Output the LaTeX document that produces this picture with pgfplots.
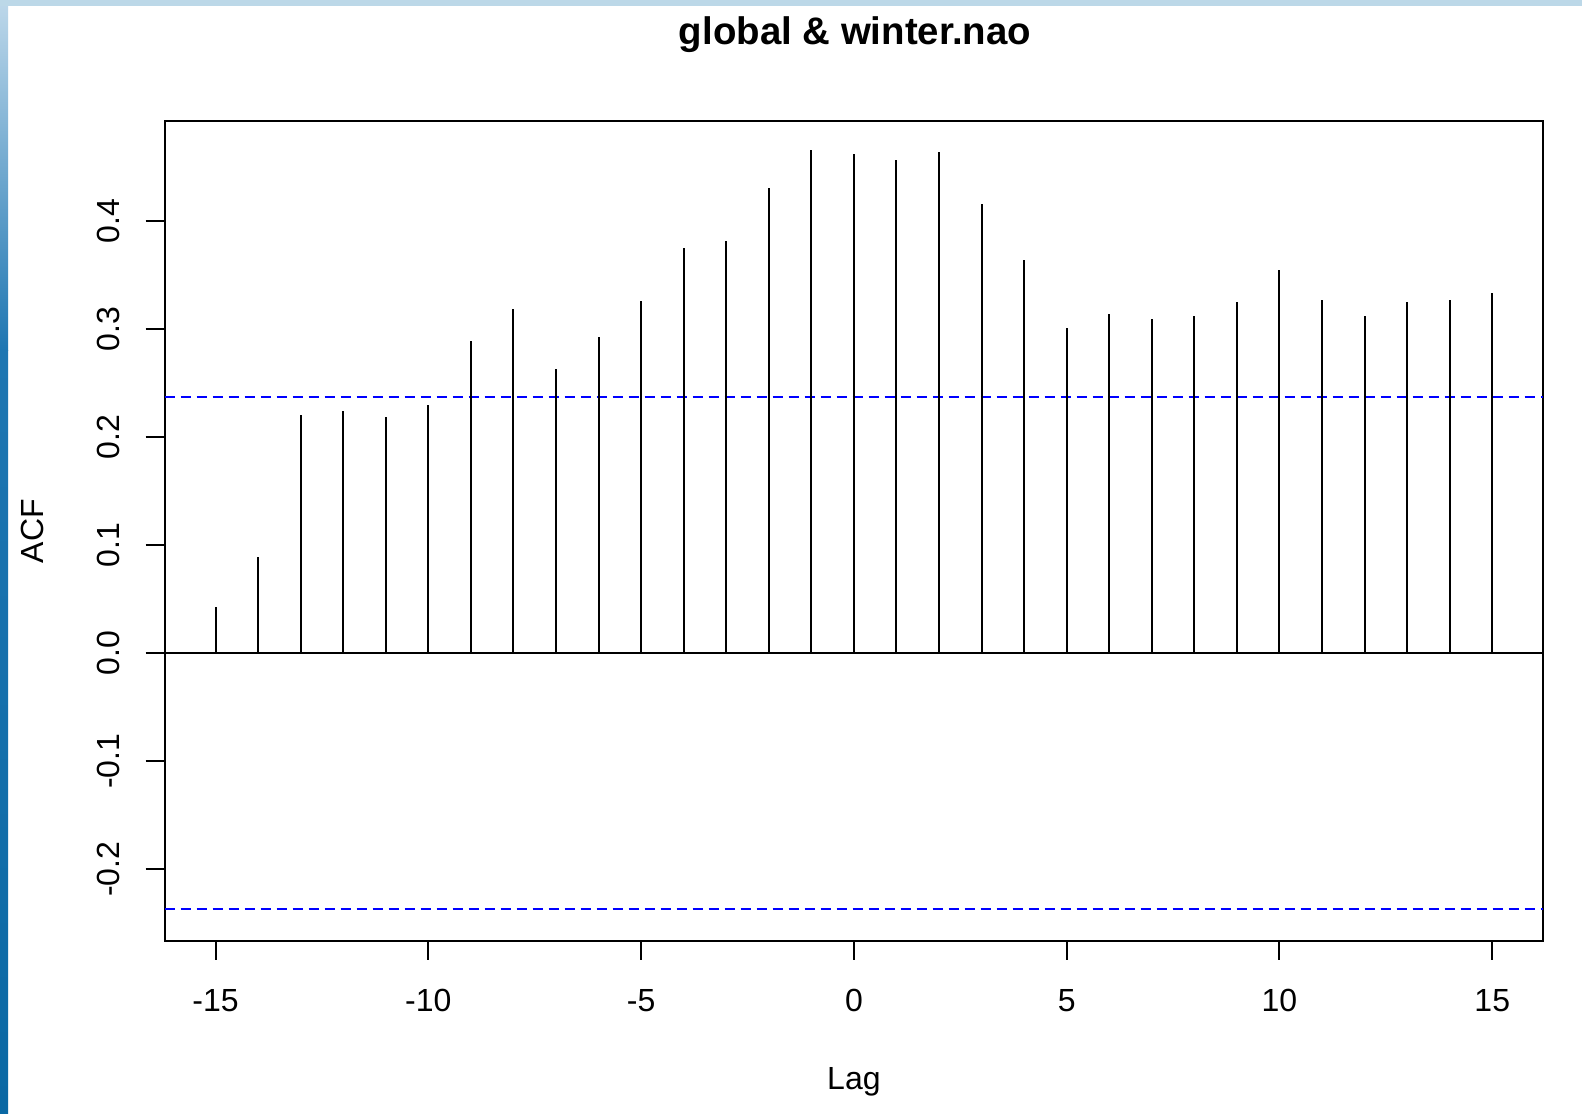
\documentclass[border=0pt]{standalone}
\usepackage{pgfplots}
\pgfplotsset{compat=1.18}
\usepackage{fontspec}
\setmainfont{Liberation Sans}
\definecolor{stripTop}{RGB}{188,216,232}
\definecolor{sA}{RGB}{190,216,234}
\definecolor{sB}{RGB}{30,118,178}
\definecolor{sC}{RGB}{10,104,164}
\definecolor{rblue}{RGB}{0,0,255}
\begin{document}
\begin{tikzpicture}
\path[use as bounding box] (0,0) rectangle (791pt,-556.5pt);
\fill[white] (0,0) rectangle (791pt,-556.5pt);
\shade[top color=sA, bottom color=sB] (0,0) rectangle (4pt,-175pt);
\shade[top color=sB, bottom color=sC] (0,-175pt) rectangle (4pt,-556.5pt);
\fill[stripTop] (0,0) rectangle (791pt,-3pt);
\begin{axis}[
  at={(82.25pt,-470.35pt)}, anchor=south west,
  scale only axis, width=689.4pt, height=409.85pt,
  xmin=-16.2, xmax=16.2, ymin=-0.2661, ymax=0.4929,
  axis line style={line width=1pt, black},
  xtick={-15,-10,-5,0,5,10,15},
  ytick={-0.2,-0.1,0,0.1,0.2,0.3,0.4},
  xtick pos=bottom, ytick pos=left,
  tick align=outside, major tick length=9.5pt,
  every tick/.style={black, line width=1pt},
  /pgf/number format/assume math mode=true,
  tick label style={font=\fontsize{16}{19}\selectfont, inner sep=0pt},
  yticklabel={\pgfmathprintnumber[fixed,fixed zerofill,precision=1]{\tick}},
  xticklabel style={anchor=base, yshift=-25.65pt},
  yticklabel style={rotate=90, anchor=base, yshift=13.1pt},
  clip=true,
]
\addplot[black, line width=1pt] coordinates {(-16.2,0) (16.2,0)};
\addplot[rblue, line width=1pt, dash pattern=on 5.2pt off 2.8pt] coordinates {(-16.2,0.2369) (16.2,0.2369)};
\addplot[rblue, line width=1pt, dash pattern=on 5.2pt off 2.8pt] coordinates {(-16.2,-0.2369) (16.2,-0.2369)};
\addplot[ycomb, black, line width=1pt, mark=none] coordinates {
(-15,0.043) (-14,0.0894) (-13,0.221) (-12,0.2246) (-11,0.219) (-10,0.230)
(-9,0.289) (-8,0.319) (-7,0.2635) (-6,0.293) (-5,0.3265) (-4,0.375)
(-3,0.382) (-2,0.4306) (-1,0.4657) (0,0.462) (1,0.4565) (2,0.464)
(3,0.4157) (4,0.364) (5,0.301) (6,0.314) (7,0.310) (8,0.312)
(9,0.325) (10,0.3546) (11,0.327) (12,0.312) (13,0.325) (14,0.327) (15,0.334)
};
\end{axis}
\node[anchor=base, font=\fontsize{19.2}{23}\selectfont\bfseries, inner sep=0pt] at (427.5pt,-22.5pt) {global \& winter.nao};
\node[anchor=base, font=\fontsize{16}{19}\selectfont, inner sep=0pt] at (426.95pt,-544.65pt) {Lag};
\node[anchor=base, rotate=90, font=\fontsize{16}{19}\selectfont, inner sep=0pt] at (21.5pt,-265.5pt) {ACF};
\end{tikzpicture}
\end{document}
